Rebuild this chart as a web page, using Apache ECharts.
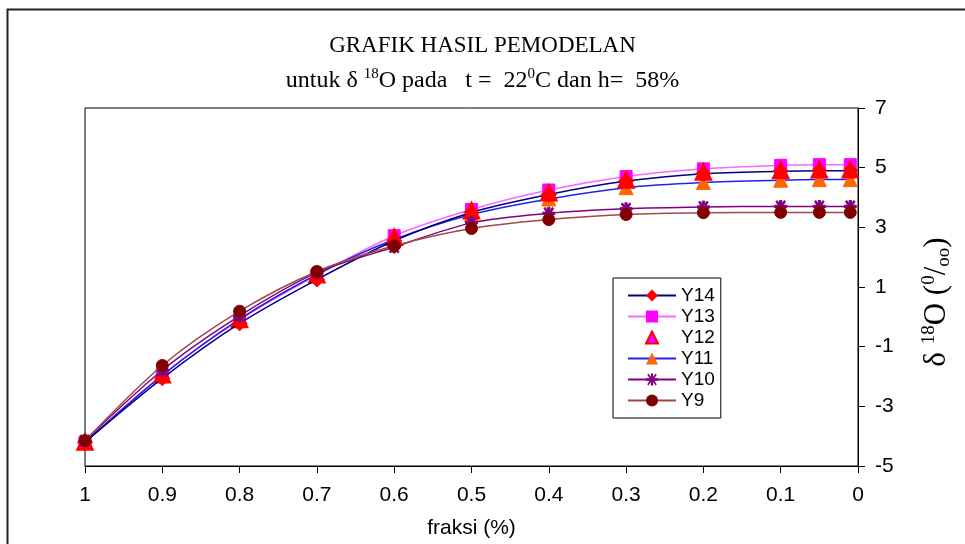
<!DOCTYPE html>
<html>
<head>
<meta charset="utf-8">
<script src="https://cdn.jsdelivr.net/npm/echarts@6/dist/echarts.min.js"></script>
<style>
html,body{margin:0;padding:0;background:#fff;}
#chart{width:965px;height:544px;}
</style>
</head>
<body>
<div id="chart"></div>
<script>
// fraction values (x)
var fraksi = [1, 0.9, 0.8, 0.7, 0.6, 0.5, 0.4, 0.3, 0.2, 0.1, 0.05, 0.01];
// delta 18O series (per mil)
var Y14 = [-4.2, -2.06, -0.22, 1.25, 2.55, 3.50, 4.10, 4.55, 4.80, 4.88, 4.90, 4.90];
var Y13 = [-4.2, -1.95, -0.10, 1.40, 2.72, 3.60, 4.25, 4.70, 4.96, 5.08, 5.10, 5.10];
var Y12 = [-4.2, -1.95, -0.10, 1.40, 2.66, 3.55, 4.15, 4.58, 4.85, 4.90, 4.92, 4.92];
var Y11 = [-4.2, -1.96, -0.08, 1.42, 2.59, 3.43, 3.95, 4.33, 4.50, 4.58, 4.60, 4.60];
var Y10 = [-4.15, -1.79, 0.03, 1.48, 2.34, 3.15, 3.47, 3.62, 3.68, 3.70, 3.70, 3.70];
var Y9  = [-4.15, -1.63, 0.19, 1.52, 2.38, 2.96, 3.26, 3.43, 3.49, 3.50, 3.50, 3.50];
var seriesNames = ['Y14', 'Y13', 'Y12', 'Y11', 'Y10', 'Y9'];
var xTickLabels = ['1', '0.9', '0.8', '0.7', '0.6', '0.5', '0.4', '0.3', '0.2', '0.1', '0'];
var yTickLabels = ['-5', '-3', '-1', '1', '3', '5', '7'];

function pairs(ys) { return fraksi.map(function (x, i) { return [x, ys[i]]; }); }

var star = 'path://M0,4 L3,4 L1,1 L2,0 L4,3 L4,0 L6,0 L6,3 L8,0 L9,1 L7,4 L10,4 L10,6 L7,6 L9,9 L8,10 L6,7 L6,10 L4,10 L4,7 L2,10 L1,9 L3,6 L0,6 Z';

var chart = echarts.init(document.getElementById('chart'));
var sans = 'Liberation Sans, Arial, sans-serif';
var serif = 'Liberation Serif, Times New Roman, serif';

chart.setOption({
  backgroundColor: '#fff',
  animation: false,
  graphic: [{
    type: 'rect', shape: {x: 7.5, y: 9.5, width: 1000, height: 1000},
    style: {fill: 'none', stroke: '#222', lineWidth: 2}, silent: true
  }],
  title: {
    text: 'GRAFIK HASIL PEMODELAN',
    subtext: '{n|untuk δ }{s|18}{n|O pada   t =  22}{s|0}{n|C dan h=  58%}',
    left: 'center', top: 29, itemGap: 10,
    textStyle: {fontFamily: serif, fontSize: 23, fontWeight: 'normal', color: '#000'},
    subtextStyle: {
      color: '#000',
      rich: {
        n: {fontFamily: serif, fontSize: 24, color: '#000', lineHeight: 28},
        s: {fontFamily: serif, fontSize: 15, color: '#000', lineHeight: 16, verticalAlign: 'top'}
      }
    }
  },
  legend: {
    orient: 'vertical', left: 613, top: 278,
    data: seriesNames,
    backgroundColor: '#fff', borderColor: '#000', borderWidth: 1,
    padding: [8, 6, 8, 14],
    itemWidth: 48, itemHeight: 15, itemGap: 2,
    textStyle: {fontFamily: sans, fontSize: 19, color: '#000'}
  },
  grid: {
    left: 85, right: 107, top: 108, bottom: 77,
    show: true, borderColor: '#000', borderWidth: 1, backgroundColor: 'transparent'
  },
  xAxis: {
    type: 'value', min: 0, max: 1, interval: 0.1, inverse: true,
    name: 'fraksi (%)', nameLocation: 'middle', nameGap: 52,
    nameTextStyle: {fontFamily: sans, fontSize: 21, color: '#000'},
    axisLine: {show: true, onZero: false, lineStyle: {color: '#000', width: 1}},
    axisTick: {show: true, length: 7, lineStyle: {color: '#000'}},
    splitLine: {show: false},
    axisLabel: {
      fontFamily: sans, fontSize: 21, color: '#000', margin: 19,
      formatter: function (v) { return xTickLabels[Math.round((1 - v) * 10)]; }
    }
  },
  yAxis: {
    type: 'value', position: 'right', min: -5, max: 7, interval: 2,
    name: '{d|δ }{s|18}{d|O (}{s|0}{d|/}{b|oo}{d|)}',
    nameLocation: 'middle', nameRotate: 90, nameGap: 62,
    nameTextStyle: {
      color: '#000', padding: [0, 30, 0, 0],
      rich: {
        d: {fontFamily: serif, fontSize: 31, color: '#000', lineHeight: 34},
        s: {fontFamily: serif, fontSize: 19, color: '#000', lineHeight: 20, verticalAlign: 'top'},
        b: {fontFamily: serif, fontSize: 19, color: '#000', lineHeight: 20, verticalAlign: 'bottom'}
      }
    },
    axisLine: {show: true, lineStyle: {color: '#000', width: 1}},
    axisTick: {show: true, length: 7, lineStyle: {color: '#000'}},
    splitLine: {show: false},
    axisLabel: {
      fontFamily: sans, fontSize: 21, color: '#000', margin: 17,
      formatter: function (v) { return yTickLabels[Math.round((v + 5) / 2)]; }
    }
  },
  series: [
    {
      name: 'Y14', type: 'line', smooth: 0.3, data: pairs(Y14),
      symbol: 'diamond', symbolSize: 15,
      lineStyle: {color: '#000080', width: 1.5},
      itemStyle: {color: '#FF0000', borderColor: '#FF0000'}, z: 6
    },
    {
      name: 'Y13', type: 'line', smooth: 0.3, data: pairs(Y13),
      symbol: 'rect', symbolSize: 12,
      lineStyle: {color: '#FF66FF', width: 1.5},
      itemStyle: {color: '#FF00FF', borderColor: '#FF00FF'}, z: 3
    },
    {
      name: 'Y12', type: 'line', smooth: 0.3, data: pairs(Y12),
      symbol: 'triangle', symbolSize: 14,
      lineStyle: {width: 0, opacity: 0},
      itemStyle: {color: '#FF00FF', borderColor: '#FF0000', borderWidth: 3}, z: 5
    },
    {
      name: 'Y11', type: 'line', smooth: 0.3, data: pairs(Y11),
      symbol: 'triangle', symbolSize: 14,
      lineStyle: {color: '#2020F0', width: 1.5},
      itemStyle: {color: '#FF6600', borderColor: '#FF6600'}, z: 4
    },
    {
      name: 'Y10', type: 'line', smooth: 0.3, data: pairs(Y10),
      symbol: star, symbolSize: 12,
      lineStyle: {color: '#800080', width: 1.5},
      itemStyle: {color: '#800080', borderColor: '#800080'}, z: 7
    },
    {
      name: 'Y9', type: 'line', smooth: 0.3, data: pairs(Y9),
      symbol: 'circle', symbolSize: 12,
      lineStyle: {color: '#A04848', width: 1.5},
      itemStyle: {color: '#800000', borderColor: '#800000'}, z: 8
    }
  ]
});
</script>
</body>
</html>
